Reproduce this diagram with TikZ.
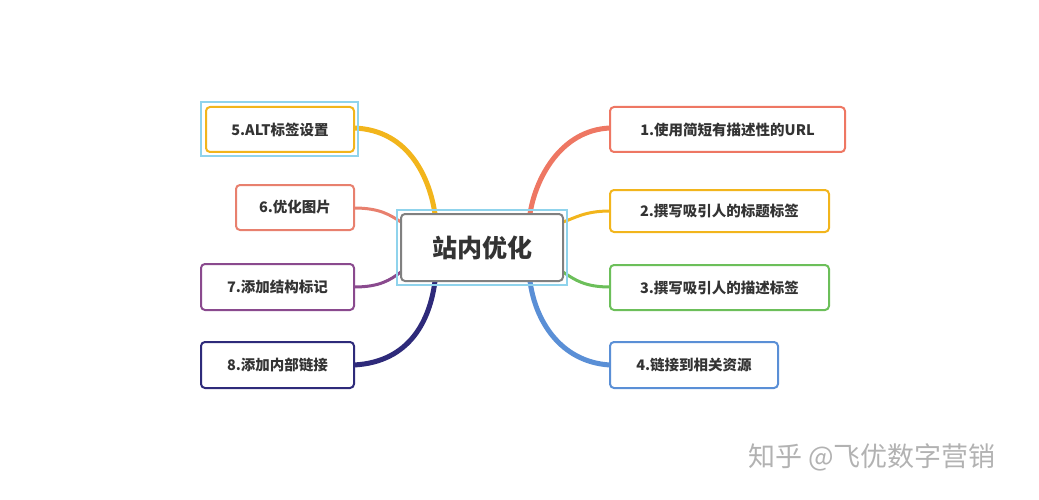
\documentclass[tikz,border=0pt]{standalone}
\usepackage{fontspec}
\setmainfont{Noto Sans CJK SC}
\begin{document}
\begin{tikzpicture}[x=1pt,y=-1pt,
  leaf/.style={draw,line width=2pt,rounded corners=4pt,fill=white,inner sep=0pt,font=\fontsize{14.5}{16}\selectfont\bfseries,text=black!80},
  br/.style={line width=#1,line cap=round}]
\useasboundingbox (0,0) rectangle (1039,500);
\definecolor{cy}{HTML}{8FD3EC}\definecolor{ye}{HTML}{F2B51C}\definecolor{sa}{HTML}{E8806E}
\definecolor{pu}{HTML}{8A4A8E}\definecolor{nv}{HTML}{2E2A7A}\definecolor{rd}{HTML}{EE7763}
\definecolor{gr}{HTML}{6CBF5A}\definecolor{bl}{HTML}{5A8FD6}
% branches
\draw[ye,br=5pt] (354,128) .. controls (410,130) and (430,180) .. (435,214);
\draw[sa,br=3pt] (354,208) .. controls (380,208) and (390,215) .. (401,222);
\draw[pu,br=3pt] (354,287) .. controls (380,287) and (390,280) .. (401,272);
\draw[nv,br=5pt] (354,365) .. controls (410,362) and (430,320) .. (435,281);
\draw[rd,br=5pt] (610,128) .. controls (560,130) and (535,180) .. (530,214);
\draw[ye,br=3pt] (610,211) .. controls (585,211) and (575,218) .. (563,222);
\draw[gr,br=3pt] (610,287) .. controls (585,287) and (575,280) .. (563,272);
\draw[bl,br=5pt] (610,365) .. controls (560,362) and (535,320) .. (530,281);
% center
\draw[cy,line width=1.2pt] (397,210) rectangle (567,285);
\node[leaf,draw=gray,minimum width=162pt,minimum height=67pt,font=\fontsize{25}{28}\selectfont\bfseries] (c) at (482,247.5) {站内优化};
% left
\draw[cy,line width=1.2pt] (201,102) rectangle (358,156);
\node[leaf,draw=ye,minimum width=148pt,minimum height=45pt] (n5) at (280,129.5) {5.ALT标签设置};
\node[leaf,draw=sa,minimum width=118pt,minimum height=45pt] (n6) at (295,207.5) {6.优化图片};
\node[leaf,draw=pu,minimum width=153pt,minimum height=46pt] (n7) at (277.5,287) {7.添加结构标记};
\node[leaf,draw=nv,minimum width=153pt,minimum height=46pt] (n8) at (277.5,365) {8.添加内部链接};
% right
\node[leaf,draw=rd,minimum width=235pt,minimum height=45pt] (n1) at (727.5,129.5) {1.使用简短有描述性的URL};
\node[leaf,draw=ye,minimum width=219pt,minimum height=42pt] (n2) at (719.5,211) {2.撰写吸引人的标题标签};
\node[leaf,draw=gr,minimum width=219pt,minimum height=45pt] (n3) at (719.5,287.5) {3.撰写吸引人的描述标签};
\node[leaf,draw=bl,minimum width=168pt,minimum height=46pt] (n4) at (694,365) {4.链接到相关资源};
\node[text=black!30,font=\fontsize{27}{30}\selectfont] (wm) at (872,457) {知乎 @飞优数字营销};
\end{tikzpicture}
\end{document}
